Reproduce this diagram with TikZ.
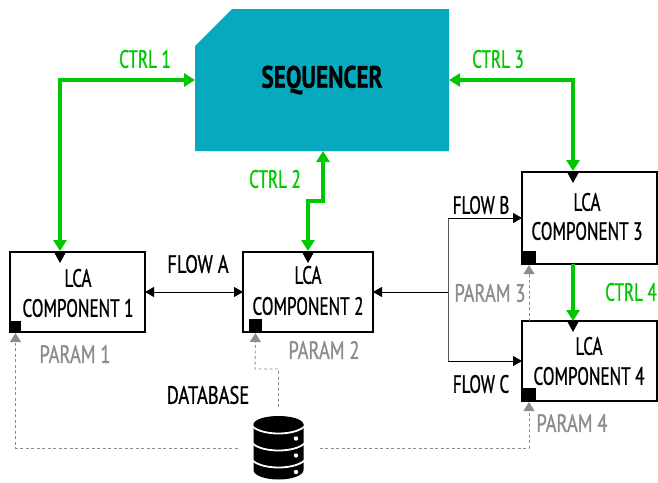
\documentclass[tikz,border=0pt]{standalone}
\usepackage{fontspec}
\setmainfont[FakeStretch=0.684,FakeBold=0.9]{PT Sans}
\newfontfamily\seqfont[FakeStretch=0.75,FakeBold=0.5]{PT Sans Bold}
\newfontfamily\widefont[FakeStretch=0.74,FakeBold=0.9]{PT Sans}
\usetikzlibrary{arrows.meta,calc}
\definecolor{seqteal}{HTML}{07A9BE}
\definecolor{ctrlgreen}{HTML}{00C800}
\definecolor{paramgray}{HTML}{8C8C8C}
\tikzset{
  lcabox/.style={draw=black,line width=2.5pt,fill=white,inner sep=0pt,outer sep=0pt},
  cornersq/.style={fill=black,inner sep=0pt,outer sep=0pt,minimum width=13pt,minimum height=13pt},
  ctrl/.style={draw=ctrlgreen,line width=3.8pt,{Triangle[width=13pt,length=11pt]}-{Triangle[width=13pt,length=11pt]}},
  ctrlone/.style={draw=ctrlgreen,line width=3.8pt,-{Triangle[width=13pt,length=11pt]}},
  flow/.style={draw=black,line width=0.9pt,-{Triangle[width=10pt,length=9pt]}},
  flowtwo/.style={draw=black,line width=0.9pt,{Triangle[width=10pt,length=9pt]}-{Triangle[width=10pt,length=9pt]}},
  branch/.style={draw=black!65,line width=1pt},
  param/.style={draw=paramgray,line width=0.9pt,dash pattern=on 3pt off 2.5pt,-{Triangle[width=11pt,length=9pt]},shorten >=1pt},
  txt/.style={font=\fontsize{25}{27}\selectfont,inner sep=0pt,text=black},
  widetxt/.style={font=\fontsize{25}{27}\widefont,inner sep=0pt,text=black},
  ctrltxt/.style={txt,text=ctrlgreen},
  paramtxt/.style={widetxt,text=paramgray},
  boxtxt/.style={txt,align=center},
}
\newcommand{\blacktip}[1]{\fill (#1) +(-6,0) -- +(6,0) -- +(0,11) -- cycle;}
\begin{document}
\begin{tikzpicture}[x=1pt,y=-1pt]
\useasboundingbox (0,0) rectangle (658,482);
\node[minimum width=254pt,minimum height=142pt,inner sep=0pt,outer sep=0pt] (seq) at (322,80) {};
\fill[seqteal] (seq.south west) -- ($(seq.north west)+(0,37)$) -- ($(seq.north west)+(37,0)$) -- (seq.north east) -- (seq.south east) -- cycle;
\node[txt,font=\fontsize{31}{32}\seqfont] (seqlabel) at (322,80) {SEQUENCER};
\node[lcabox,minimum width=135pt,minimum height=80pt] (c1) at (77.5,292) {};
\node[lcabox,minimum width=130pt,minimum height=80pt] (c2) at (308,292) {};
\node[lcabox,minimum width=135pt,minimum height=92pt] (c3) at (589.5,218) {};
\node[lcabox,minimum width=135pt,minimum height=80pt] (c4) at (589.5,361) {};
\node[cornersq,minimum width=11pt,minimum height=11pt,anchor=south west] (c1sq) at (c1.south west) {};
\node[cornersq,anchor=south west] (c2sq) at ($(c2.south west)+(6,0)$) {};
\node[cornersq,minimum width=14pt,anchor=south west] (c3sq) at (c3.south west) {};
\node[cornersq,minimum width=14pt,anchor=south west] (c4sq) at (c4.south west) {};
\node[boxtxt] (c1a) at (78,278) {LCA};
\node[boxtxt] (c1b) at (78,308) {COMPONENT 1};
\node[boxtxt] (c2a) at (308,275) {LCA};
\node[boxtxt] (c2b) at (308,306) {COMPONENT 2};
\node[boxtxt] (c3a) at (587,202) {LCA};
\node[boxtxt] (c3b) at (587,231) {COMPONENT 3};
\node[boxtxt] (c4a) at (589,346) {LCA};
\node[boxtxt] (c4b) at (589,376) {COMPONENT 4};
% database icon
\node[inner sep=0pt,outer sep=0pt,minimum width=50pt,minimum height=64pt] (db) at (278.5,448) {};
\fill (253.5,425) arc[x radius=25,y radius=8.5,start angle=180,end angle=360] -- (303.5,470) arc[x radius=25,y radius=9.5,start angle=0,end angle=180] -- cycle;
\fill (278.5,424.5) ellipse[x radius=25,y radius=8.5];
\draw[white,line width=1.8pt] (252,426) .. controls (262,436) and (295,436) .. (305,426);
\draw[white,line width=1.8pt] (252,443) .. controls (262,453) and (295,453) .. (305,443);
\draw[white,line width=1.8pt] (252,460) .. controls (262,470) and (295,470) .. (305,460);
\fill[white] (296,438.5) circle[radius=2.2] (296,455.5) circle[radius=2.2] (296,472) circle[radius=2.2];
% control connectors
\coordinate (c1in) at ($(c1.north west)+(50,-1)$);
\coordinate (c3in) at ($(c3.north west)+(51,-1)$);
\coordinate (jog) at (323,201);
\coordinate (c2in) at ($(c2.north)+(0,-1)$);
\draw[ctrl] (seq.west) -| (c1in);
\draw[ctrl] (seq.east) -| (c3in);
\draw[ctrl] (seq.south -| jog) -- (jog) -| (c2in);
\draw[ctrlone] (c3.south -| c3in) -- (c4.north -| c3in);
\blacktip{$(c1.north west)+(50,0)$}
\blacktip{c2.north}
\blacktip{$(c3.north west)+(51,0)$}
\blacktip{$(c4.north west)+(51,0)$}
% flows
\coordinate (split) at (448,292);
\draw[flowtwo] (c1.east) -- (c2.west);
\draw[flow] (split) -- (c2.east);
\draw[branch] (c3.west -| split) -- (c4.west -| split);
\draw[flow] (split |- c3.west) -- (c3.west);
\draw[flow] (split |- c4.west) -- (c4.west);
% parameter connectors
\coordinate (dbjog) at (255,369);
\draw[param,shorten <=16pt] (db.west) -| (c1sq.south);
\draw[param,shorten <=9pt] (db.north) |- (dbjog) -- (c2sq.south);
\draw[param,shorten <=16pt] (db.east) -| (c4sq.south);
\draw[param] (c4.north -| c3sq.south) -- (c3sq.south);
% labels
\node[ctrltxt] (l1) at (145,59) {CTRL 1};
\node[ctrltxt] (l2) at (275,179) {CTRL 2};
\node[ctrltxt] (l3) at (498,59) {CTRL 3};
\node[ctrltxt] (l4) at (631,292) {CTRL 4};
\node[widetxt] (fa) at (198,264) {FLOW A};
\node[txt] (fb) at (481,205) {FLOW B};
\node[txt] (fc) at (481,384) {FLOW C};
\node[widetxt] (dbl) at (208,395) {DATABASE};
\node[paramtxt] (p1) at (75,354) {PARAM 1};
\node[paramtxt] (p2) at (324,350) {PARAM 2};
\node[paramtxt] (p3) at (490,293) {PARAM 3};
\node[paramtxt] (p4) at (572,423) {PARAM 4};
\end{tikzpicture}
\end{document}
